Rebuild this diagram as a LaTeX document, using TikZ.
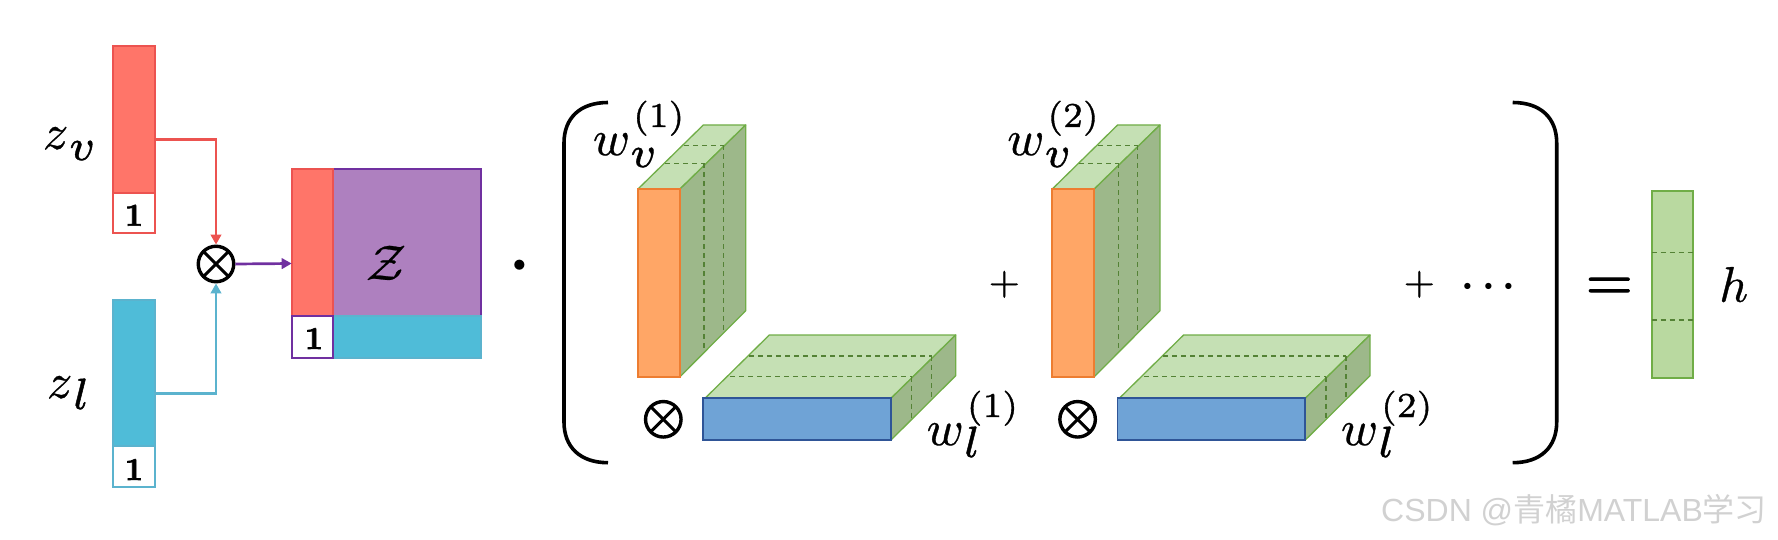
\documentclass[tikz,border=0pt]{standalone}
\usepackage{amsmath}
\usepackage[no-math]{fontspec}
\newfontfamily\wmlatin{Liberation Sans}
\newfontfamily\wmcjk{Noto Sans CJK SC}
\usetikzlibrary{arrows.meta}
\definecolor{redfill}{HTML}{FF7569}
\definecolor{redline}{HTML}{EC5350}
\definecolor{tealfill}{HTML}{4FBCD8}
\definecolor{tealline}{HTML}{5BB3CE}
\definecolor{purfill}{HTML}{AE80BF}
\definecolor{purline}{HTML}{7030A0}
\definecolor{gtop}{HTML}{C5E0B4}
\definecolor{gside}{HTML}{9DB88A}
\definecolor{gline}{HTML}{70AD47}
\definecolor{gdash}{HTML}{548235}
\definecolor{gbar}{HTML}{B9D9A0}
\definecolor{orfill}{HTML}{FFA666}
\definecolor{orline}{HTML}{ED7D31}
\definecolor{blfill}{HTML}{6FA3D6}
\definecolor{blline}{HTML}{2F5597}
\newcommand{\heavy}[2][0.2]{\special{pdf:literal 2 Tr #1 w}#2\special{pdf:literal 0 Tr}}
\tikzset{
  barbox/.style={anchor=north west,inner sep=0pt,outer sep=0pt,line width=1.7pt},
  txt/.style={anchor=base west,inner sep=0pt,outer sep=0pt,scale=5},
  ctxt/.style={anchor=base,inner sep=0pt,outer sep=0pt,scale=#1},
  otimesmark/.style={circle,draw=black,line width=3.4pt,minimum size=35.5pt,inner sep=0pt,outer sep=1.7pt,
    path picture={
      \draw[line width=3pt] (path picture bounding box.north west)--(path picture bounding box.south east);
      \draw[line width=3pt] (path picture bounding box.north east)--(path picture bounding box.south west);}},
  conn/.style={line width=2.7pt,-{Triangle[length=10pt,width=10.5pt]}},
  face/.style={draw=gline,line width=1.3pt,line join=round},
  dashln/.style={draw=gdash,line width=1.2pt,dash pattern=on 5pt off 4pt},
  brace/.style={line width=3.6pt,draw=black}
}
\newcommand{\wlabel}[2]{\heavy[0.07]{$w\rlap{\raisebox{-2.4pt}{\scalebox{1.25}{$\scriptstyle #1$}}}\kern0.6pt\raisebox{5.6pt}{$\scriptstyle(#2)$}$}}
\newcommand{\zlabel}[1]{\heavy[0.07]{$z\kern0.1pt\raisebox{-2.2pt}{\scalebox{1.25}{$\scriptstyle #1$}}$}}
\newcommand{\blockpair}{%
  % upright slab
  \fill[gtop] (637.7,189.3)--(703.3,125)--(745.7,125)--(679.7,189.3)--cycle;
  \draw[face] (637.7,189.3)--(703.3,125)--(745.7,125)--(679.7,189.3);
  \path[face,fill=gside] (679.7,189.3)--(745.7,125)--(745.7,310.7)--(679.7,377)--cycle;
  \draw[dashln] (684,145.3)--(723.3,145.3);
  \draw[dashln] (665,163.3)--(704,163.3);
  \draw[dashln] (704,163.3)--(704,350.7);
  \draw[dashln] (723.3,145.3)--(723.3,333.3);
  \path[fill=orfill,draw=orline,line width=1.7pt] (637.7,189.3) rectangle (679.7,377);
  % flat slab
  \fill[gtop] (705,398.3)--(769.3,335)--(955.7,335)--(891,398.3)--cycle;
  \draw[face] (705,398.3)--(769.3,335)--(955.7,335)--(891,398.3);
  \path[face,fill=gside] (891,398.3)--(955.7,335)--(955.7,375.7)--(891,440)--cycle;
  \draw[dashln] (749,356)--(931.7,356);
  \draw[dashln] (730,376.7)--(911.7,376.7);
  \draw[dashln] (911.7,376.7)--(911.7,418);
  \draw[dashln] (931.7,356)--(931.7,396.7);
  \path[fill=blfill,draw=blline,line width=1.7pt] (703.3,398.3) rectangle (891,440);
}
\begin{document}
\begin{tikzpicture}[x=1pt,y=-1pt]
\useasboundingbox (0,0) rectangle (1778,540);
% input bars
\node[barbox,draw=redline,fill=redfill,minimum width=41.7pt,minimum height=187.3pt] (zv) at (113,46) {};
\node[barbox,draw=redline,fill=white,minimum width=41.7pt,minimum height=40.6pt] (zvone) at (113,192.7) {};
\node[ctxt=3.2] (zvtxt) at (134,225.7) {\heavy[0.2]{$\mathbf{1}$}};
\node[barbox,draw=tealline,fill=tealfill,minimum width=41.7pt,minimum height=187.3pt] (zl) at (113,300) {};
\node[barbox,draw=tealline,fill=white,minimum width=41.7pt,minimum height=41.3pt] (zlone) at (113,446) {};
\node[ctxt=3.2] (zltxt) at (134,480) {\heavy[0.2]{$\mathbf{1}$}};
\node[txt] (zvlab) at (43,149) {\zlabel{v}};
\node[txt] (zllab) at (47,398) {\zlabel{l}};
% product
\node[otimesmark] (ot) at (216,264) {};
% matrix
\node[barbox,draw=purline,fill=purfill,minimum width=189.3pt,minimum height=188.4pt] (zm) at (291.7,169.3) {};
\node[barbox,draw=tealline,fill=tealfill,minimum width=147.7pt,minimum height=41.7pt] (zmb) at (333.3,316) {};
\node[barbox,draw=redline,fill=redfill,minimum width=41.6pt,minimum height=146.7pt] (zmr) at (291.7,169.3) {};
\node[barbox,draw=purline,fill=white,minimum width=41.6pt,minimum height=41.7pt] (zmone) at (291.7,316) {};
\node[ctxt=3.2] (zmtxt) at (314,349) {\heavy[0.2]{$\mathbf{1}$}};
\node[ctxt=5] (zcal) at (386,280) {\heavy[0.05]{$\mathcal{Z}$}};
% connectors
\draw[conn,draw=redline] (zv.east) -| (ot.north);
\draw[conn,draw=tealline] (zl.east) -| (ot.south);
\draw[conn,draw=purline] (ot.east) -- (zm.west);
% dot
\node[ctxt=6.5] (dotop) at (519.6,281) {$\boldsymbol{\cdot}$};
% brackets
\draw[brace] (608,102.5) .. controls (580,102.5) and (564,118) .. (564,143) -- (564,422) .. controls (564,447) and (580,462.7) .. (608,462.7);
\draw[brace] (1512.7,102.5) .. controls (1540.7,102.5) and (1556.7,118) .. (1556.7,143) -- (1556.7,422) .. controls (1556.7,447) and (1540.7,462.7) .. (1512.7,462.7);
% blocks
\blockpair
\begin{scope}[xshift=414.3pt]
\blockpair
\end{scope}
\node[otimesmark] (ota) at (663.3,419.3) {};
\node[otimesmark] (otb) at (1077.6,419.3) {};
\node[txt] (wv1) at (593,155) {\wlabel{v}{1}};
\node[txt] (wl1) at (926.7,445) {\wlabel{l}{1}};
\node[txt] (wv2) at (1007.3,155) {\wlabel{v}{2}};
\node[txt] (wl2) at (1341,445) {\wlabel{l}{2}};
% operators
\node[ctxt=4] (plusa) at (1004.3,294.3) {\heavy[0.12]{$+$}};
\node[ctxt=4] (plusb) at (1419.3,294.3) {\heavy[0.12]{$+$}};
\node[ctxt=4] (dots) at (1492.3,296) {$\boldsymbol{\cdots}$};
\node[ctxt=6] (eq) at (1609.3,300) {\heavy[0.2]{$=$}};
% output
\node[barbox,draw=gline,fill=gbar,minimum width=41.3pt,minimum height=187.3pt] (hbar) at (1651.7,190.7) {};
\draw[dashln] (hbar.west |- 0,252.7) -- (hbar.east |- 0,252.7);
\draw[dashln] (hbar.west |- 0,320) -- (hbar.east |- 0,320);
\node[txt] (hlab) at (1719.3,301.7) {\heavy[0.07]{$h$}};
% watermark
\node[anchor=base west,inner sep=0pt,text=black!18] (wm) at (1381,521.7) {\fontsize{32}{36}\selectfont\wmlatin CSDN @\wmcjk 青橘\wmlatin MATLAB\wmcjk 学习};
\end{tikzpicture}
\end{document}
